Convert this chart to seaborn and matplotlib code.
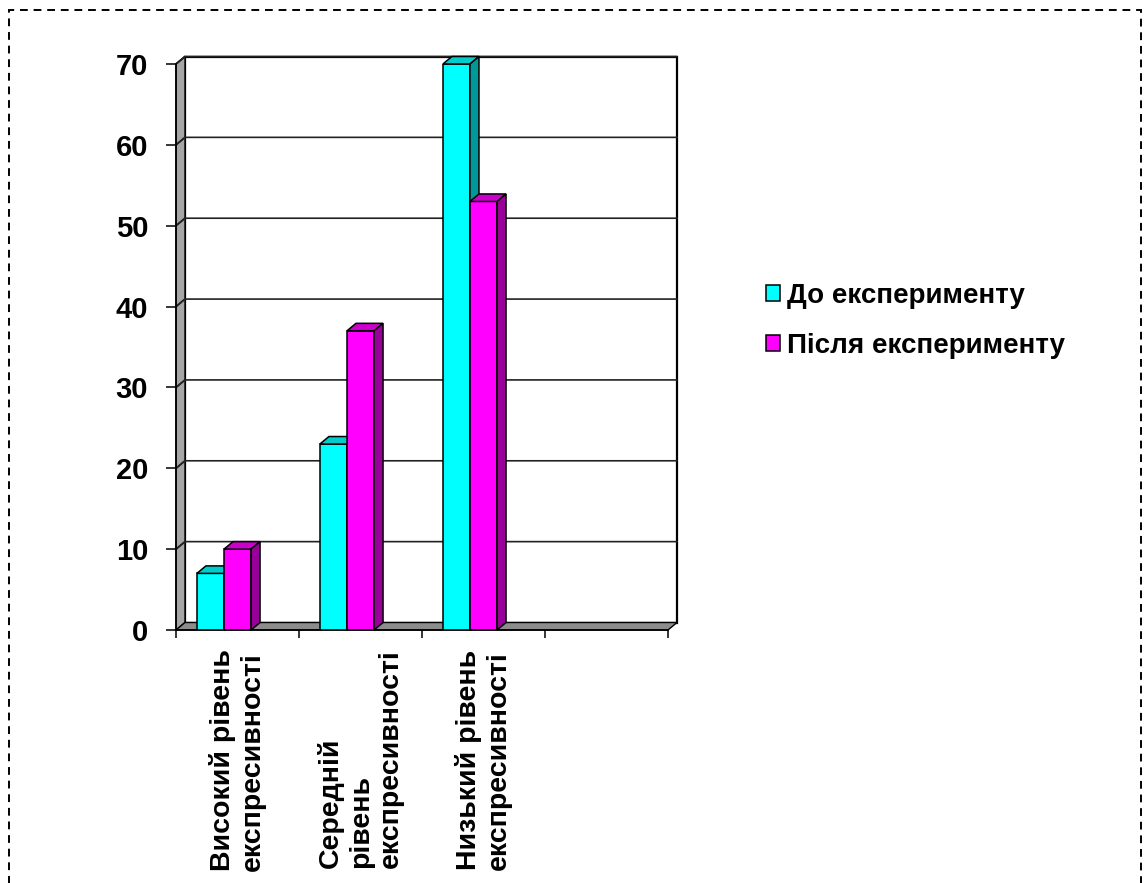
import numpy as np
import pandas as pd
import seaborn as sns
import matplotlib
matplotlib.use("Agg")
import matplotlib.pyplot as plt
from matplotlib.patches import Polygon, Rectangle

# ---- data ----
categories = [
    "Високий рівень\nекспресивності",
    "Середній\nрівень\nекспресивності",
    "Низький рівень\nекспресивності",
]
series_names = ["До експерименту", "Після експерименту"]
before_values = [7, 23, 70]
after_values = [10, 37, 53]
y_ticks = [0, 10, 20, 30, 40, 50, 60, 70]

front_colors = ["#00FFFF", "#FF00FF"]
top_colors = ["#00CCCC", "#CC00CC"]
side_colors = ["#009999", "#990099"]

df = pd.DataFrame({
    "category": categories * 2,
    "phase": [series_names[0]] * 3 + [series_names[1]] * 3,
    "value": before_values + after_values,
})

sns.set_theme(style="white")
plt.rcParams["font.family"] = ["Liberation Sans", "DejaVu Sans"]
plt.rcParams["font.weight"] = "bold"
for key in ("text.color", "xtick.color", "ytick.color", "axes.labelcolor"):
    plt.rcParams[key] = "black"

W, H = 1144, 883
fig = plt.figure(figsize=(W / 100, H / 100), dpi=100)
ax = fig.add_axes([176 / W, (H - 630) / H, 492 / W, 566 / H])

sns.barplot(data=df, x="category", y="value", hue="phase", order=categories,
            hue_order=series_names, palette=front_colors, width=0.44,
            saturation=1, edgecolor="black", linewidth=1.1, ax=ax, legend=True)

# plot box: 4 slots, the last one empty; bars sit left of the slot centre
x0, x1 = -0.39, 3.61
ymax = 70
ax.set_xlim(x0, x1)
ax.set_ylim(0, ymax)

# depth offset of the pseudo-3D box, converted to data units
dx = 9 / 123.0
dy = 7.5 / (566 / ymax)

# back wall with gridlines
ax.add_patch(Rectangle((x0 + dx, dy), x1 - x0, ymax, facecolor="white",
                       edgecolor="black", linewidth=1.6, zorder=0.5, clip_on=False))
for t in y_ticks[1:]:
    ax.plot([x0, x0 + dx, x1 + dx], [t, t + dy, t + dy], color="#222222",
            linewidth=1.2, zorder=0.8, clip_on=False)
# left wall
ax.add_patch(Polygon([(x0, 0), (x0 + dx, dy), (x0 + dx, ymax + dy), (x0, ymax)],
                     closed=True, facecolor="#A6A6A6", edgecolor="black",
                     linewidth=1.0, zorder=0.6, clip_on=False))
for t in y_ticks[1:]:
    ax.plot([x0, x0 + dx], [t, t + dy], color="#222222", linewidth=1.2,
            zorder=0.7, clip_on=False)
# floor
ax.add_patch(Polygon([(x0, 0), (x1, 0), (x1 + dx, dy), (x0 + dx, dy)],
                     closed=True, facecolor="#8C8C8C", edgecolor="black",
                     linewidth=1.0, zorder=0.9, clip_on=False))

# give every bar a top and a side face
for patch in list(ax.patches):
    if not isinstance(patch, Rectangle) or patch.get_height() <= 0:
        continue
    fc = matplotlib.colors.to_hex(patch.get_facecolor()).lower()
    if fc not in ("#00ffff", "#ff00ff"):
        continue
    k = 0 if fc == "#00ffff" else 1
    z = 3 + k
    patch.set_zorder(z)
    bx, bw, bh = patch.get_x(), patch.get_width(), patch.get_height()
    top = Polygon([(bx, bh), (bx + bw, bh), (bx + bw + dx, bh + dy), (bx + dx, bh + dy)],
                  closed=True, facecolor=top_colors[k], edgecolor="black",
                  linewidth=1.1, zorder=z, clip_on=False)
    side = Polygon([(bx + bw, 0), (bx + bw + dx, dy), (bx + bw + dx, bh + dy), (bx + bw, bh)],
                   closed=True, facecolor=side_colors[k], edgecolor="black",
                   linewidth=1.1, zorder=z, clip_on=False)
    ax.add_patch(top)
    ax.add_patch(side)

# axes lines and ticks
for s in ("top", "right"):
    ax.spines[s].set_visible(False)
for s in ("left", "bottom"):
    ax.spines[s].set_color("black")
    ax.spines[s].set_linewidth(1.2)
    ax.spines[s].set_zorder(2)
ax.set_yticks(y_ticks)
ax.set_yticklabels([str(v) for v in y_ticks], fontsize=21, fontweight="bold",
                   color="black")
ax.tick_params(axis="y", direction="out", length=7, width=1.1, color="black",
               pad=13, left=True)
ax.set_xticks([x0 + i for i in range(5)])
ax.set_xticklabels([])
ax.set_xticks([i + 0.11 for i in range(3)], categories, minor=True)
ax.tick_params(axis="x", which="major", direction="out", length=6, width=1.1,
               color="black", bottom=True)
ax.tick_params(axis="x", which="minor", length=0, pad=14)
for lbl in ax.get_xticklabels(minor=True):
    lbl.set_rotation(90)
    lbl.set_fontsize(20.5)
    lbl.set_fontweight("bold")
    lbl.set_color("black")
    lbl.set_va("top")
    lbl.set_ha("center")
    lbl.set_multialignment("left")
    lbl.set_linespacing(1.2)
ax.set_xlabel("")
ax.set_ylabel("")
ax.grid(False)

# legend outside the plot box
handles, labels = ax.get_legend_handles_labels()
ax.get_legend().remove()
for h in handles:
    h.set_edgecolor("black")
    h.set_linewidth(1.1)
leg = fig.legend(handles, labels, loc="center left",
                 bbox_to_anchor=(752 / W, 1 - 321 / H), frameon=False,
                 prop={"weight": "bold", "size": 20},
                 handlelength=0.5, handleheight=0.5, handletextpad=0.25,
                 labelspacing=0.85, borderpad=0)
for t in leg.get_texts():
    t.set_color("black")

# dashed frame around the chart area
fig.patches.append(Rectangle((9 / W, -0.05), (1141 - 9) / W, (H - 10) / H + 0.05,
                             transform=fig.transFigure, fill=False,
                             edgecolor="black", linewidth=1.4,
                             linestyle=(0, (4, 3)), zorder=10))

fig.savefig("out.png", dpi=100)
